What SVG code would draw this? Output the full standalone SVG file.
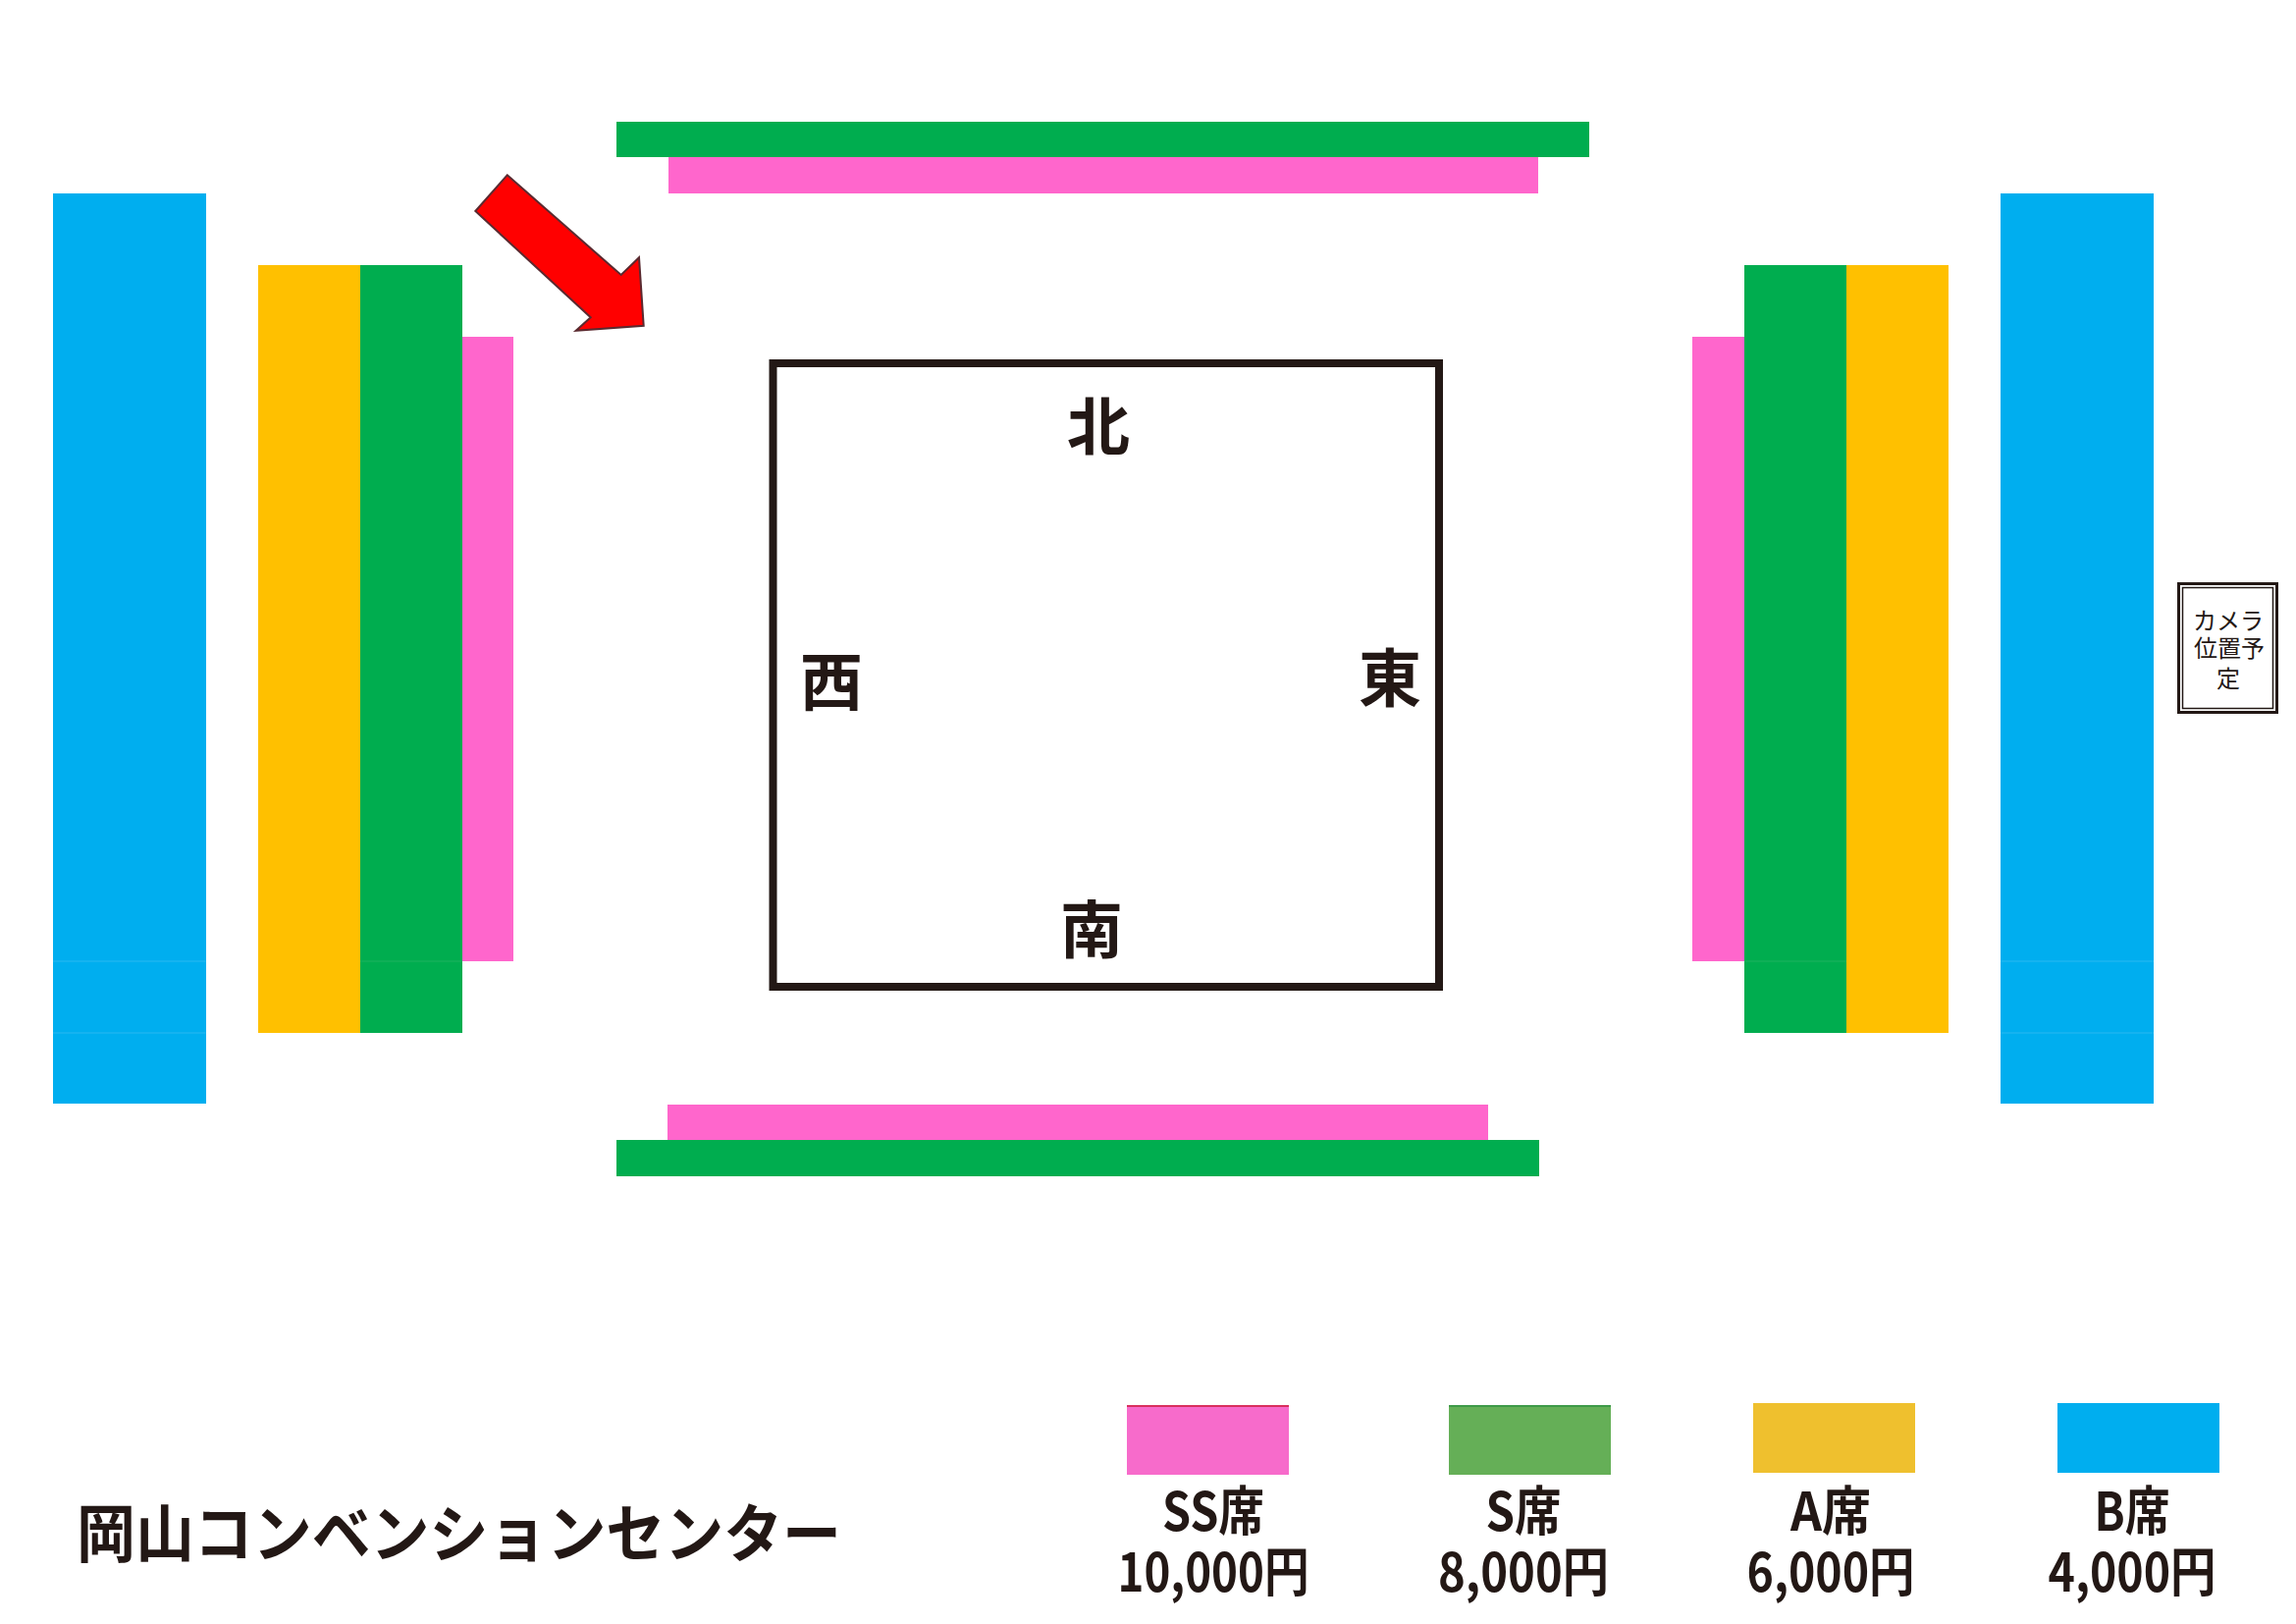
<svg xmlns="http://www.w3.org/2000/svg" width="2339" height="1654" viewBox="0 0 2339 1654">
<style>
.b{fill:#00AEEF}
.y{fill:#FFC000}
.g{fill:#00AD4F}
.p{fill:#FF66CC}
.seam{stroke-width:1.5;fill:none}
.dir{font-family:"Noto Sans CJK JP","Noto Sans",sans-serif;font-weight:700;font-size:64px;fill:#231815;text-anchor:middle}
.leg{font-family:"Noto Sans CJK JP","Noto Sans",sans-serif;font-weight:700;font-size:54px;fill:#231815;text-anchor:middle}
.cam{font-family:"Noto Sans CJK JP","Noto Sans",sans-serif;font-size:24px;fill:#231815;text-anchor:middle}
</style>
<rect width="2339" height="1654" fill="#FFFFFF"/>

<g id="west-blocks">
<rect class="b" x="54" y="197" width="156" height="927"/>
<line class="seam" x1="54" y1="979" x2="210" y2="979" stroke="#1CB4F0"/>
<line class="seam" x1="54" y1="1052" x2="210" y2="1052" stroke="#1CB4F0"/>
<rect class="y" x="263" y="270" width="104" height="782"/>
<rect class="g" x="367" y="270" width="104" height="782"/>
<line class="seam" x1="367" y1="979" x2="471" y2="979" stroke="#14B25A"/>
<rect class="p" x="471" y="343" width="52" height="636"/>
</g>

<g id="east-blocks">
<rect class="p" x="1724" y="343" width="53" height="636"/>
<rect class="g" x="1777" y="270" width="104" height="782"/>
<line class="seam" x1="1777" y1="979" x2="1881" y2="979" stroke="#14B25A"/>
<rect class="y" x="1881" y="270" width="104" height="782"/>
<rect class="b" x="2038" y="197" width="156" height="927"/>
<line class="seam" x1="2038" y1="979" x2="2194" y2="979" stroke="#1CB4F0"/>
<line class="seam" x1="2038" y1="1052" x2="2194" y2="1052" stroke="#1CB4F0"/>
</g>

<g id="north-blocks">
<rect class="g" x="628" y="124" width="991" height="36"/>
<rect class="p" x="681" y="160" width="886" height="37"/>
</g>

<g id="south-blocks">
<rect class="p" x="680" y="1125" width="836" height="36"/>
<rect class="g" x="628" y="1161" width="940" height="37"/>
</g>

<g id="ring">
<rect x="787.5" y="370" width="678.5" height="635" fill="none" stroke="#231815" stroke-width="8"/>
<text class="dir" x="1119" y="458">北</text>
<text class="dir" x="1112" y="970">南</text>
<text class="dir" x="847" y="718">西</text>
<text class="dir" x="1416" y="714">東</text>
</g>

<g id="connectors">
<polygon points="516.7,178.3 632.7,280 651,262.3 655.7,331.7 586.7,336.7 601.7,323.3 484.3,215" fill="#FF0000" stroke="#5A2A30" stroke-width="2" stroke-linejoin="miter"/>
</g>

<g id="camera">
<rect x="2219.5" y="594.5" width="100" height="131" fill="#FFFFFF" stroke="#231815" stroke-width="3"/>
<rect x="2223.5" y="598.5" width="92" height="123" fill="none" stroke="#231815" stroke-width="1.5"/>
<text class="cam" x="2270" y="641">カメラ</text>
<text class="cam" x="2271" y="669">位置予</text>
<text class="cam" x="2270" y="700">定</text>
</g>

<g id="title">
<text x="78" y="1585" font-family="'Noto Sans CJK JP','Noto Sans',sans-serif" font-weight="700" font-size="64" fill="#231815" textLength="779" lengthAdjust="spacingAndGlyphs">岡山コンベンションセンター</text>
</g>

<g id="legend-ss">
<rect x="1148" y="1431" width="165" height="71" fill="#F76BCB"/>
<line x1="1148" y1="1432" x2="1313" y2="1432" stroke="#D9305E" stroke-width="2"/>
<text class="leg" x="1236" y="1559" textLength="104" lengthAdjust="spacingAndGlyphs">SS席</text>
<text class="leg" x="1236" y="1621" textLength="195" lengthAdjust="spacingAndGlyphs">10,000円</text>
</g>

<g id="legend-s">
<rect x="1476" y="1431" width="165" height="71" fill="#65AF57"/>
<line x1="1476" y1="1432" x2="1641" y2="1432" stroke="#3E9A48" stroke-width="2"/>
<text class="leg" x="1552" y="1559" textLength="77" lengthAdjust="spacingAndGlyphs">S席</text>
<text class="leg" x="1552" y="1621" textLength="174" lengthAdjust="spacingAndGlyphs">8,000円</text>
</g>

<g id="legend-a">
<rect x="1786" y="1429" width="165" height="71" fill="#EFC02E"/>
<text class="leg" x="1865" y="1559" textLength="82" lengthAdjust="spacingAndGlyphs">A席</text>
<text class="leg" x="1865" y="1621" textLength="171" lengthAdjust="spacingAndGlyphs">6,000円</text>
</g>

<g id="legend-b">
<rect x="2096" y="1429" width="165" height="71" fill="#00AEEF"/>
<text class="leg" x="2172" y="1559" textLength="77" lengthAdjust="spacingAndGlyphs">B席</text>
<text class="leg" x="2172" y="1621" textLength="171" lengthAdjust="spacingAndGlyphs">4,000円</text>
</g>
</svg>
